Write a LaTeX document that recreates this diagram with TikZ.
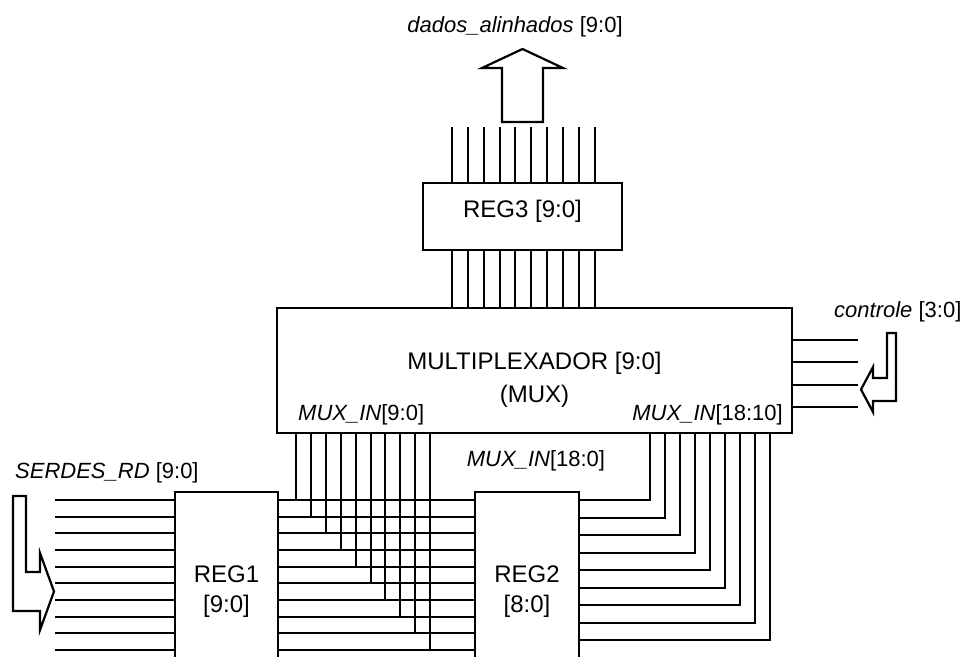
\documentclass[tikz,border=0pt]{standalone}
\usepackage{fontspec}
\setmainfont{Liberation Sans}

\tikzset{
  regbox/.style={draw, line width=2.6pt, fill=white, inner sep=0pt, align=center,
    font=\fontsize{24}{30}\selectfont},
  wire/.style={line width=2pt},
  busarrow/.style={draw, line width=2.2pt, fill=white, line join=miter},
  sig/.style={inner sep=0pt, anchor=base, font=\fontsize{22}{26}\selectfont}
}

\begin{document}
\begin{tikzpicture}[x=1pt,y=-1pt]
  \useasboundingbox (0,0) rectangle (966,656);
  \clip (0,0) rectangle (966,656);

  % blocos
  \node[regbox, minimum width=515pt, minimum height=125pt, font=\fontsize{24}{33}\selectfont,
    text height=68pt, text depth=5pt] (mux) at (534.5,370.5) {MULTIPLEXADOR [9:0]\\(MUX)};
  \node[regbox, minimum width=199pt, minimum height=67pt, text height=17.5pt, text depth=16.5pt] (reg3) at (522.5,216.5) {REG3 [9:0]};
  \node[regbox, minimum width=103pt, minimum height=200pt] (reg1) at (226.5,592) {REG1\\{}[9:0]};
  \node[regbox, minimum width=104pt, minimum height=200pt] (reg2) at (527,592) {REG2\\{}[8:0]};

  % sinais
  \node[sig] (saida) at (515,32) {\textit{dados\_alinhados} [9:0]};
  \node[sig, anchor=base west] (serdes) at (15,478) {\textit{SERDES\_RD} [9:0]};
  \node[sig, anchor=base west] (ctrl) at (834,317) {\textit{controle} [3:0]};
  \node[sig, anchor=base west] (muxinlo) at (298,420) {\textit{MUX\_IN}[9:0]};
  \node[sig, anchor=base east] (muxinhi) at (783,420) {\textit{MUX\_IN}[18:10]};
  \node[sig] (muxin) at (536,466) {\textit{MUX\_IN}[18:0]};

  \coordinate (reg3top) at (0,127);
  \coordinate (ctrlend) at (858,0);
  \coordinate (serdesend) at (55,0);

  % REG3: entrada e saida
  \foreach \i [evaluate=\i as \x using 452+15.85*\i] in {0,...,9} {
    \draw[wire] (\x,0 |- reg3top) -- (\x,0 |- reg3.north);
    \draw[wire] (\x,0 |- reg3.south) -- (\x,0 |- mux.north);
  }

  % controle
  \foreach \y in {340,362.3,384.6,407}
    \draw[wire] (mux.east |- 0,\y) -- (ctrlend |- 0,\y);

  % SERDES -> REG1 -> REG2, MUX_IN[9:0]
  \foreach \i [evaluate=\i as \y using 500+16.67*\i,
               evaluate=\i as \x using 296+14.9*\i] in {0,...,9} {
    \draw[wire] (serdesend |- 0,\y) -- (reg1.west |- 0,\y);
    \draw[wire] (reg1.east |- 0,\y) -- (reg2.west |- 0,\y);
    \draw[wire] (\x,0 |- mux.south) -- (\x,\y);
  }

  % REG2 -> MUX_IN[18:10]
  \foreach \i [evaluate=\i as \y using 500+17.5*\i,
               evaluate=\i as \x using 650+15*\i] in {0,...,8}
    \draw[wire] (reg2.east |- 0,\y) -| (\x,0 |- mux.south);

  % setas de barramento
  \draw[busarrow] (502,122) -- (502,68) -- (482,68) -- (522.5,49) -- (563,68) -- (543,68) -- (543,122) -- cycle;
  \draw[busarrow] (13,496) -- (26,496) -- (26,572) -- (40,572) -- (40,553) -- (54,591.5)
    -- (40,630) -- (40,611) -- (13,611) -- cycle;
  \draw[busarrow] (896,333) -- (887,333) -- (887,378) -- (873,378) -- (873,367) -- (861,389.5)
    -- (873,412) -- (873,401) -- (896,401) -- cycle;
\end{tikzpicture}
\end{document}
